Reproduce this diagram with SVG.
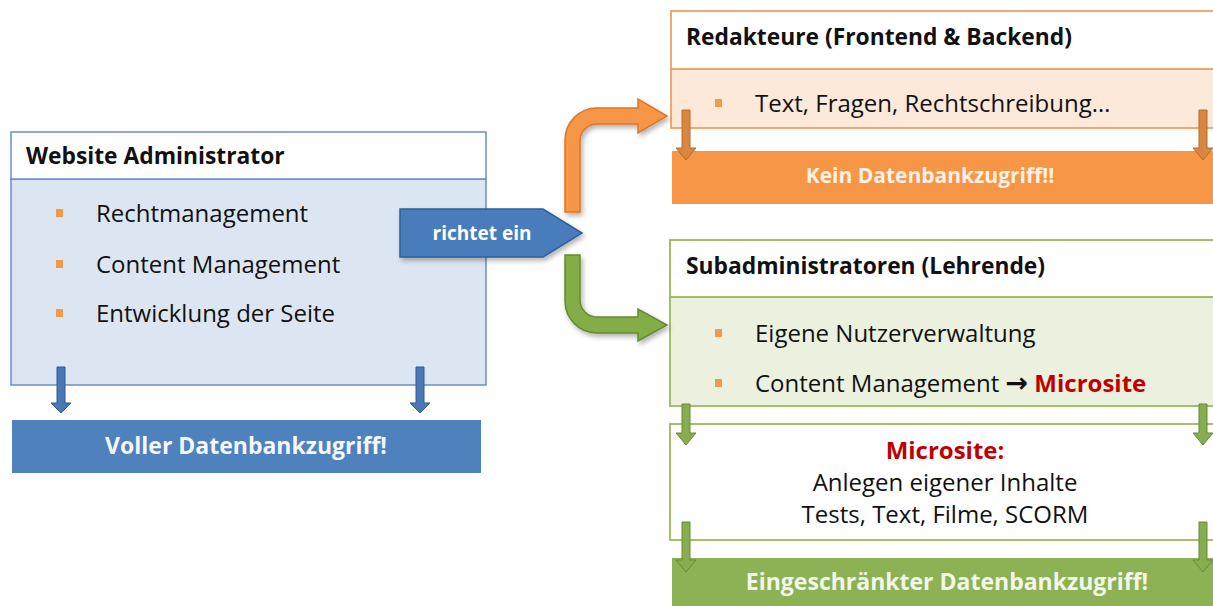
<svg xmlns="http://www.w3.org/2000/svg" width="1213" height="606" viewBox="0 0 1213 606">
<defs>
<filter id="sh" x="-10%" y="-10%" width="130%" height="140%">
<feDropShadow dx="2" dy="3" stdDeviation="2.5" flood-color="#000" flood-opacity="0.3"/>
</filter>
</defs>
<style>
text{font-family:"Open Sans","Liberation Sans",sans-serif;fill:#111}
.t{font-weight:bold;font-size:22.8px}
.b{font-size:24px}
.w{fill:#fff;font-weight:bold;font-size:23px}
.red{fill:#c00000;font-weight:bold}
.bul{fill:#f29a4a}
.bl{stroke:#6a8fc6;stroke-width:1.5}
.og{stroke:#f0a060;stroke-width:1.8}
.gr{stroke:#9bbb59;stroke-width:1.8}
.dab{fill:#4a78b5;stroke:#2f5a92;stroke-width:1}
.dao{fill:#d9873f;stroke:#b46a2c;stroke-width:1}
.dag{fill:#88ad4f;stroke:#66893a;stroke-width:1}
</style>
<rect width="1213" height="606" fill="#fff"/>

<g id="admin">
<rect x="11" y="179" width="475" height="206" fill="#dce6f2" class="bl"/>
<rect x="11" y="132" width="475" height="47" fill="#fff" class="bl"/>
<text x="26" y="164" class="t">Website Administrator</text>
<rect x="56" y="209" width="7" height="8" class="bul"/>
<rect x="56" y="260" width="7" height="8" class="bul"/>
<rect x="56" y="309" width="7" height="8" class="bul"/>
<text x="96" y="222" class="b">Rechtmanagement</text>
<text x="96" y="273" class="b">Content Management</text>
<text x="96" y="322" class="b">Entwicklung der Seite</text>
</g>

<g id="voller">
<rect x="12" y="420" width="469" height="53" fill="#4f81bd"/>
<text x="246" y="454" class="w" text-anchor="middle" style="fill:#f4f7fb">Voller Datenbankzugriff!</text>
</g>

<g id="redakteure">
<rect x="671" y="69" width="550" height="59" fill="#fde9d9" class="og"/>
<rect x="671" y="11" width="550" height="58" fill="#fff" class="og"/>
<text x="686" y="45" class="t">Redakteure (Frontend &amp; Backend)</text>
<rect x="715" y="99" width="7" height="8" class="bul"/>
<text x="755" y="112" class="b">Text, Fragen, Rechtschreibung…</text>
</g>

<g id="kein">
<rect x="672" y="151" width="545" height="53" fill="#f79646"/>
<text x="930" y="183" class="w" text-anchor="middle" style="fill:#fdf0e4;font-size:21px">Kein Datenbankzugriff!!</text>
</g>

<g id="subadmin">
<rect x="670" y="297" width="550" height="109" fill="#ebf1de" class="gr"/>
<rect x="670" y="240" width="550" height="57" fill="#fff" class="gr"/>
<text x="686" y="274" class="t">Subadministratoren (Lehrende)</text>
<rect x="715" y="329" width="7" height="8" class="bul"/>
<rect x="715" y="379" width="7" height="8" class="bul"/>
<text x="755" y="342" class="b">Eigene Nutzerverwaltung</text>
<text x="755" y="392" class="b">Content Management <tspan style="font-family:'DejaVu Sans',sans-serif;font-weight:bold;font-size:27px">→</tspan> <tspan class="red">Microsite</tspan></text>
</g>

<g id="microsite">
<rect x="670" y="424" width="550" height="116" fill="#fff" class="gr"/>
<text x="945" y="459" class="b red" text-anchor="middle">Microsite:</text>
<text x="945" y="491" class="b" text-anchor="middle">Anlegen eigener Inhalte</text>
<text x="945" y="523" class="b" text-anchor="middle">Tests, Text, Filme, SCORM</text>
</g>

<g id="eingeschraenkt">
<rect x="672" y="558" width="545" height="48" fill="#8db255"/>
<text x="947" y="590" class="w" text-anchor="middle" style="fill:#f2f7ea">Eingeschränkter Datenbankzugriff!</text>
</g>

<g id="richtet">
<polygon points="400,209 543,209 582,233 543,257 400,257" fill="#4a7cba" stroke="#2f5f99" stroke-width="1.5" filter="url(#sh)"/>
<text x="482" y="240" class="w" text-anchor="middle" style="font-size:19px">richtet ein</text>
</g>

<g id="connectors">
<path d="M565,212 V140 A32,32 0 0 1 597,108 H638 V99 L667,116 L638,133 V124 H597 A17,17 0 0 0 580,141 V212 Z" fill="#f79646" stroke="#d9772d" stroke-width="1.5" filter="url(#sh)"/>
<path d="M565,255 V301 A32,32 0 0 0 597,333 H638 V341 L667,325 L638,309 V317 H597 A17,17 0 0 1 580,300 V255 Z" fill="#84ad47" stroke="#648c32" stroke-width="1.5" filter="url(#sh)"/>
<path d="M57,367 H65 V403 H71 L61,413 L51,403 H57 Z" class="dab"/>
<path d="M416,367 H424 V403 H430 L420,413 L410,403 H416 Z" class="dab"/>
<path d="M682,110 H690 V148 H696 L686,160 L676,148 H682 Z" class="dao"/>
<path d="M1199,110 H1207 V148 H1213 L1203,160 L1193,148 H1199 Z" class="dao"/>
<path d="M682,404 H690 V433 H696 L686,445 L676,433 H682 Z" class="dag"/>
<path d="M1199,404 H1207 V433 H1213 L1203,445 L1193,433 H1199 Z" class="dag"/>
<path d="M682,522 H690 V560 H696 L686,572 L676,560 H682 Z" class="dag"/>
<path d="M1199,522 H1207 V560 H1213 L1203,572 L1193,560 H1199 Z" class="dag"/>
</g>
</svg>
